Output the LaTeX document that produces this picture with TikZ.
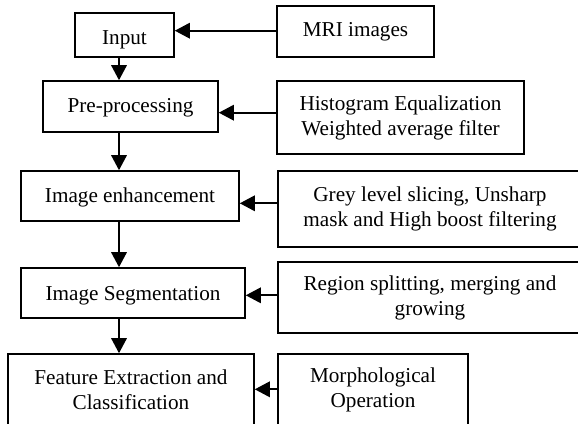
\documentclass[tikz,border=0pt]{standalone}
\usepackage{fontspec}
\setmainfont{Liberation Serif}
\usetikzlibrary{arrows.meta}
\tikzset{
  blk/.style={draw, line width=1.6pt, inner sep=0pt, align=center,
    font=\fontsize{21.2}{25}\selectfont},
  % single-line label with its baseline set by the given height and depth
  oneline/.style 2 args={text height=#1, text depth=#2},
  arr/.style={line width=1.7pt, -{Triangle[length=15pt,width=15.5pt]}},
}
\begin{document}
\begin{tikzpicture}[x=1pt,y=-1pt]
  \useasboundingbox (0,0) rectangle (578,423);
  \clip (0,0) rectangle (578,423);

  % main pipeline (left column)
  \node[blk, oneline={18pt}{0pt}, minimum width=99pt,  minimum height=44pt] (input) at (124.5,35)  {Input};
  \node[blk, oneline={14pt}{3pt}, minimum width=175pt, minimum height=51pt] (pre)   at (130.5,106.5) {Pre-processing};
  \node[blk, oneline={15pt}{3pt}, minimum width=218pt, minimum height=50pt] (enh)   at (130,196)   {Image enhancement};
  \node[blk, oneline={16pt}{2pt}, minimum width=224pt, minimum height=50pt] (seg)   at (133,293)   {Image Segmentation};
  \node[blk, minimum width=246pt, minimum height=72pt] (feat)  at (131,390) {Feature Extraction and\\Classification};

  % methods used at each stage (right column)
  \node[blk, minimum width=157pt, minimum height=51pt] (mri)    at (355.5,31.5) {MRI images};
  \node[blk, minimum width=247pt, minimum height=73pt] (hist)   at (400.5,117.5) {Histogram Equalization\\Weighted average filter};
  \node[blk, minimum width=304pt, minimum height=76pt] (grey)   at (430,209)   {Grey level slicing, Unsharp\\mask and High boost filtering};
  \node[blk, minimum width=304pt, minimum height=71pt] (region) at (430,297.5) {Region splitting, merging and\\growing};
  \node[blk, minimum width=190pt, minimum height=72pt] (morph)  at (373,390) {Morphological\\Operation};

  % vertical flow
  \coordinate (col) at (119,0);
  \draw[arr] (input.south -| col) -- (pre.north -| col);
  \draw[arr] (pre.south -| col)   -- (enh.north -| col);
  \draw[arr] (enh.south -| col)   -- (seg.north -| col);
  \draw[arr] (seg.south -| col)   -- (feat.north -| col);

  % side inputs
  \coordinate (s1) at ([yshift=0.8pt]mri.west);
  \coordinate (s2) at ([yshift=4.8pt]hist.west);
  \coordinate (s3) at ([yshift=5.7pt]grey.west);
  \coordinate (s4) at ([yshift=2.2pt]region.west);
  \coordinate (s5) at ([yshift=0.7pt]morph.west);
  \draw[arr] (s1) -- (input.east |- s1);
  \draw[arr] (s2) -- (pre.east |- s2);
  \draw[arr] (s3) -- (enh.east |- s3);
  \draw[arr] (s4) -- (seg.east |- s4);
  \draw[arr] (s5) -- (feat.east |- s5);
\end{tikzpicture}
\end{document}
